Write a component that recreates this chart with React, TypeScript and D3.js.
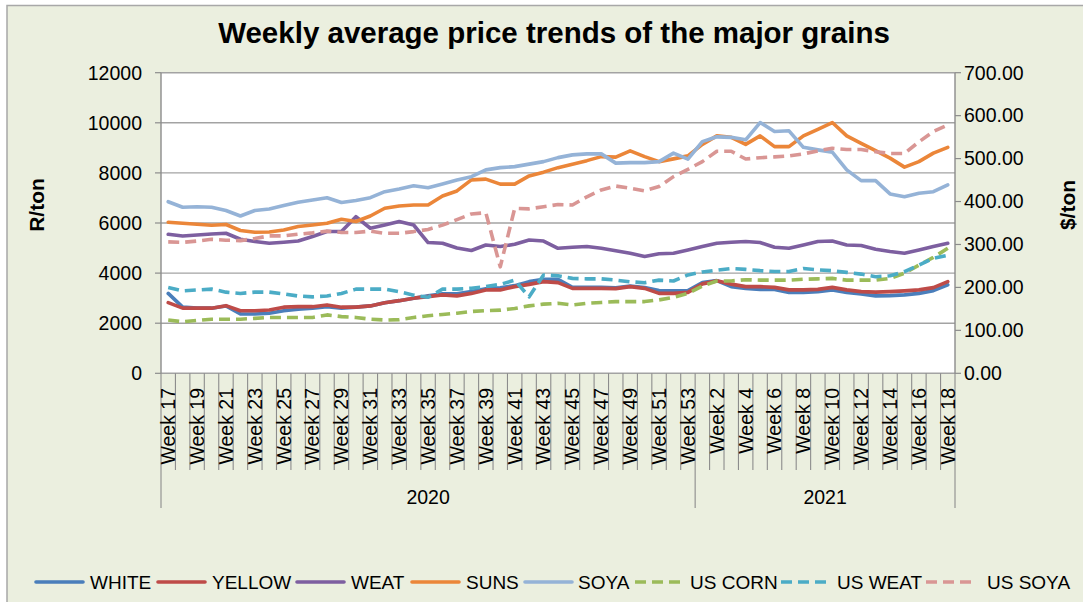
import React from "react";
import * as d3 from "d3";

const weeks2020 = ["Week 17","Week 18","Week 19","Week 20","Week 21","Week 22","Week 23","Week 24","Week 25","Week 26","Week 27","Week 28","Week 29","Week 30","Week 31","Week 32","Week 33","Week 34","Week 35","Week 36","Week 37","Week 38","Week 39","Week 40","Week 41","Week 42","Week 43","Week 44","Week 45","Week 46","Week 47","Week 48","Week 49","Week 50","Week 51","Week 52","Week 53"];
const weeks2021 = ["Week 1","Week 2","Week 3","Week 4","Week 5","Week 6","Week 7","Week 8","Week 9","Week 10","Week 11","Week 12","Week 13","Week 14","Week 15","Week 16","Week 17","Week 18"];
const years = ["2020", "2021"];

const leftTicks = [0, 2000, 4000, 6000, 8000, 10000, 12000];
const rightTicks = [0, 100, 200, 300, 400, 500, 600, 700];

// R/ton (primary axis)
const white = [3190,2640,2600,2600,2690,2370,2370,2400,2500,2560,2600,2660,2600,2640,2690,2820,2900,3000,3090,3170,3170,3260,3370,3410,3500,3660,3750,3750,3430,3430,3430,3410,3480,3420,3300,3290,3300,3620,3700,3460,3390,3350,3350,3230,3230,3260,3330,3230,3170,3090,3100,3130,3190,3300,3530];
const yellow = [2820,2600,2600,2600,2700,2500,2500,2530,2640,2660,2660,2730,2640,2640,2690,2820,2900,3000,3060,3130,3090,3190,3330,3330,3460,3550,3660,3620,3390,3390,3390,3380,3460,3390,3190,3190,3230,3570,3690,3560,3460,3460,3430,3330,3330,3350,3430,3330,3260,3240,3260,3290,3330,3420,3660];
const weat = [5550,5480,5520,5560,5590,5350,5260,5190,5230,5280,5460,5660,5660,6250,5790,5920,6060,5920,5220,5190,5000,4900,5120,5060,5150,5320,5280,4990,5030,5060,4990,4890,4790,4660,4770,4790,4920,5060,5190,5230,5260,5220,5030,4990,5120,5260,5280,5120,5100,4950,4860,4790,4920,5060,5190];
const suns = [6030,5990,5950,5910,5940,5700,5630,5640,5720,5860,5920,5990,6150,6060,6280,6590,6680,6720,6720,7080,7280,7720,7750,7550,7550,7880,8030,8210,8350,8490,8650,8630,8880,8650,8450,8560,8680,9140,9480,9420,9140,9480,9050,9050,9480,9740,10010,9480,9180,8890,8590,8230,8450,8790,9020];
const soya = [6850,6630,6650,6630,6500,6280,6500,6560,6700,6830,6920,7010,6820,6900,7010,7250,7360,7490,7410,7560,7720,7850,8120,8210,8250,8350,8450,8610,8720,8760,8760,8390,8410,8410,8450,8790,8550,9250,9440,9420,9320,10010,9650,9680,9020,8920,8830,8120,7690,7690,7160,7050,7190,7250,7520];

// $/ton (secondary axis)
const usCorn = [124,120,123,126,126,126,128,130,130,130,130,136,132,130,126,124,125,130,134,137,140,144,146,147,151,157,161,163,159,163,165,167,167,167,171,177,186,203,215,215,218,217,217,217,219,220,221,217,217,217,221,233,252,270,291];
const usWeat = [200,192,194,196,189,186,189,189,185,180,178,180,186,196,196,196,190,182,177,196,196,198,202,207,217,178,229,227,221,220,220,217,213,211,217,215,229,236,240,244,242,239,237,237,244,241,239,235,231,225,227,237,252,268,275];
const usSoya = [306,305,308,312,310,309,314,320,320,324,327,331,328,328,331,326,326,330,335,345,358,371,374,248,384,383,388,393,392,411,427,436,431,425,435,458,475,493,517,517,499,502,504,506,511,518,524,521,521,516,512,512,539,563,578];

const W = 1083, H = 602;
const FONT = "'Liberation Sans', Arial, Helvetica, sans-serif";

type S = { name: string; data: number[]; color: string; axis: "L" | "R"; dashed: boolean; lx: number; tx: number };
const series: S[] = [
  { name: "WHITE", data: white, color: "#4A7EBB", axis: "L", dashed: false, lx: 36, tx: 90 },
  { name: "YELLOW", data: yellow, color: "#BE4B48", axis: "L", dashed: false, lx: 158, tx: 212 },
  { name: "WEAT", data: weat, color: "#7D5FA0", axis: "L", dashed: false, lx: 297, tx: 351 },
  { name: "SUNS", data: suns, color: "#EB8639", axis: "L", dashed: false, lx: 412, tx: 466 },
  { name: "SOYA", data: soya, color: "#95B3D7", axis: "L", dashed: false, lx: 525, tx: 578 },
  { name: "US CORN", data: usCorn, color: "#9BBB59", axis: "R", dashed: true, lx: 635, tx: 690 },
  { name: "US WEAT", data: usWeat, color: "#4BACC6", axis: "R", dashed: true, lx: 781, tx: 837 },
  { name: "US SOYA", data: usSoya, color: "#D99694", axis: "R", dashed: true, lx: 926, tx: 987 },
];

export default function App() {
  const cats = [...weeks2020, ...weeks2021];
  const left = 161, right = 955, top = 72.7, bottom = 373.3;
  const x = d3.scaleBand<number>().domain(d3.range(cats.length)).range([left, right]).padding(0);
  const bw = x.bandwidth();
  const cx = (i: number) => (x(i) as number) + bw / 2;
  const yL = d3.scaleLinear().domain([0, 12000]).range([bottom, top]);
  const yR = d3.scaleLinear().domain([0, 700]).range([bottom, top]);
  const grid = "#A3A3A3";
  const axisC = "#8C8C8C";

  const groupBounds = [0, weeks2020.length, cats.length];

  return (
    <svg width={W} height={H} style={{ position: "absolute", left: 0, top: 0 }} fontFamily={FONT}>
      <rect x={0} y={0} width={W} height={H} fill="#ffffff" />
      <rect x={7} y={5.5} width={W + 10} height={H + 10} fill="#EBEFDF" stroke="#A8A8A8" strokeWidth={1.5} />
      <text x={554} y={43} textAnchor="middle" fontSize={29.5} fontWeight="bold" fill="#000">
        Weekly average price trends of the major grains
      </text>

      <rect x={left} y={top} width={right - left} height={bottom - top} fill="#ffffff" />
      {leftTicks.map((t) => (
        <g key={"g" + t}>
          <line x1={left} x2={right} y1={yL(t)} y2={yL(t)} stroke={grid} strokeWidth={1.4} />
          <line x1={left - 6} x2={left} y1={yL(t)} y2={yL(t)} stroke={axisC} strokeWidth={1.2} />
          <text x={142} y={yL(t)} dy="0.35em" textAnchor="end" fontSize={19.5} fill="#000">{t}</text>
        </g>
      ))}
      {rightTicks.map((t) => (
        <g key={"r" + t}>
          <line x1={right} x2={right + 6} y1={yR(t)} y2={yR(t)} stroke={axisC} strokeWidth={1.2} />
          <text x={964} y={yR(t)} dy="0.35em" textAnchor="start" fontSize={19.5} fill="#000">{t.toFixed(2)}</text>
        </g>
      ))}
      <line x1={left} x2={left} y1={top} y2={bottom} stroke={axisC} strokeWidth={1.4} />
      <line x1={right} x2={right} y1={top} y2={bottom} stroke={axisC} strokeWidth={1.4} />

      {d3.range(cats.length + 1).map((k) => {
        const xx = left + k * bw;
        const isGroup = groupBounds.includes(k);
        return <line key={"s" + k} x1={xx} x2={xx} y1={bottom} y2={isGroup ? 508 : 470} stroke={axisC} strokeWidth={1.1} />;
      })}
      {cats.map((c, i) =>
        i % 2 === 0 ? (
          <text key={"c" + i} transform={`translate(${cx(i)},388) rotate(-90)`} dy="0.35em" textAnchor="end" fontSize={19.5} fill="#000">
            {c}
          </text>
        ) : null
      )}
      {years.map((yv, gi) => {
        const a = left + groupBounds[gi] * bw;
        const b = left + groupBounds[gi + 1] * bw;
        return (
          <text key={yv} x={(a + b) / 2} y={504} textAnchor="middle" fontSize={19.5} fill="#000">{yv}</text>
        );
      })}

      <text transform="translate(44,205) rotate(-90)" textAnchor="middle" fontSize={21} fontWeight="bold" fill="#000">R/ton</text>
      <text transform="translate(1075,205) rotate(-90)" textAnchor="middle" fontSize={21} fontWeight="bold" fill="#000">$/ton</text>

      {series.map((s) => {
        const yy = s.axis === "L" ? yL : yR;
        const gen = d3.line<number>().x((_, i) => cx(i)).y((v) => yy(v));
        return (
          <path key={s.name} d={gen(s.data) || ""} fill="none" stroke={s.color} strokeWidth={3.6}
            strokeDasharray={s.dashed ? "11,6" : undefined} strokeLinejoin="round" strokeLinecap={s.dashed ? "butt" : "round"} />
        );
      })}

      {series.map((s) => (
        <g key={"lg" + s.name}>
          <line x1={s.lx} x2={s.lx + 47} y1={582} y2={582} stroke={s.color} strokeWidth={3.6}
            strokeDasharray={s.dashed ? "11,6" : undefined} strokeLinecap={s.dashed ? "butt" : "round"} />
          <text x={s.tx} y={582} dy="0.35em" fontSize={19} fill="#000">{s.name}</text>
        </g>
      ))}
    </svg>
  );
}
